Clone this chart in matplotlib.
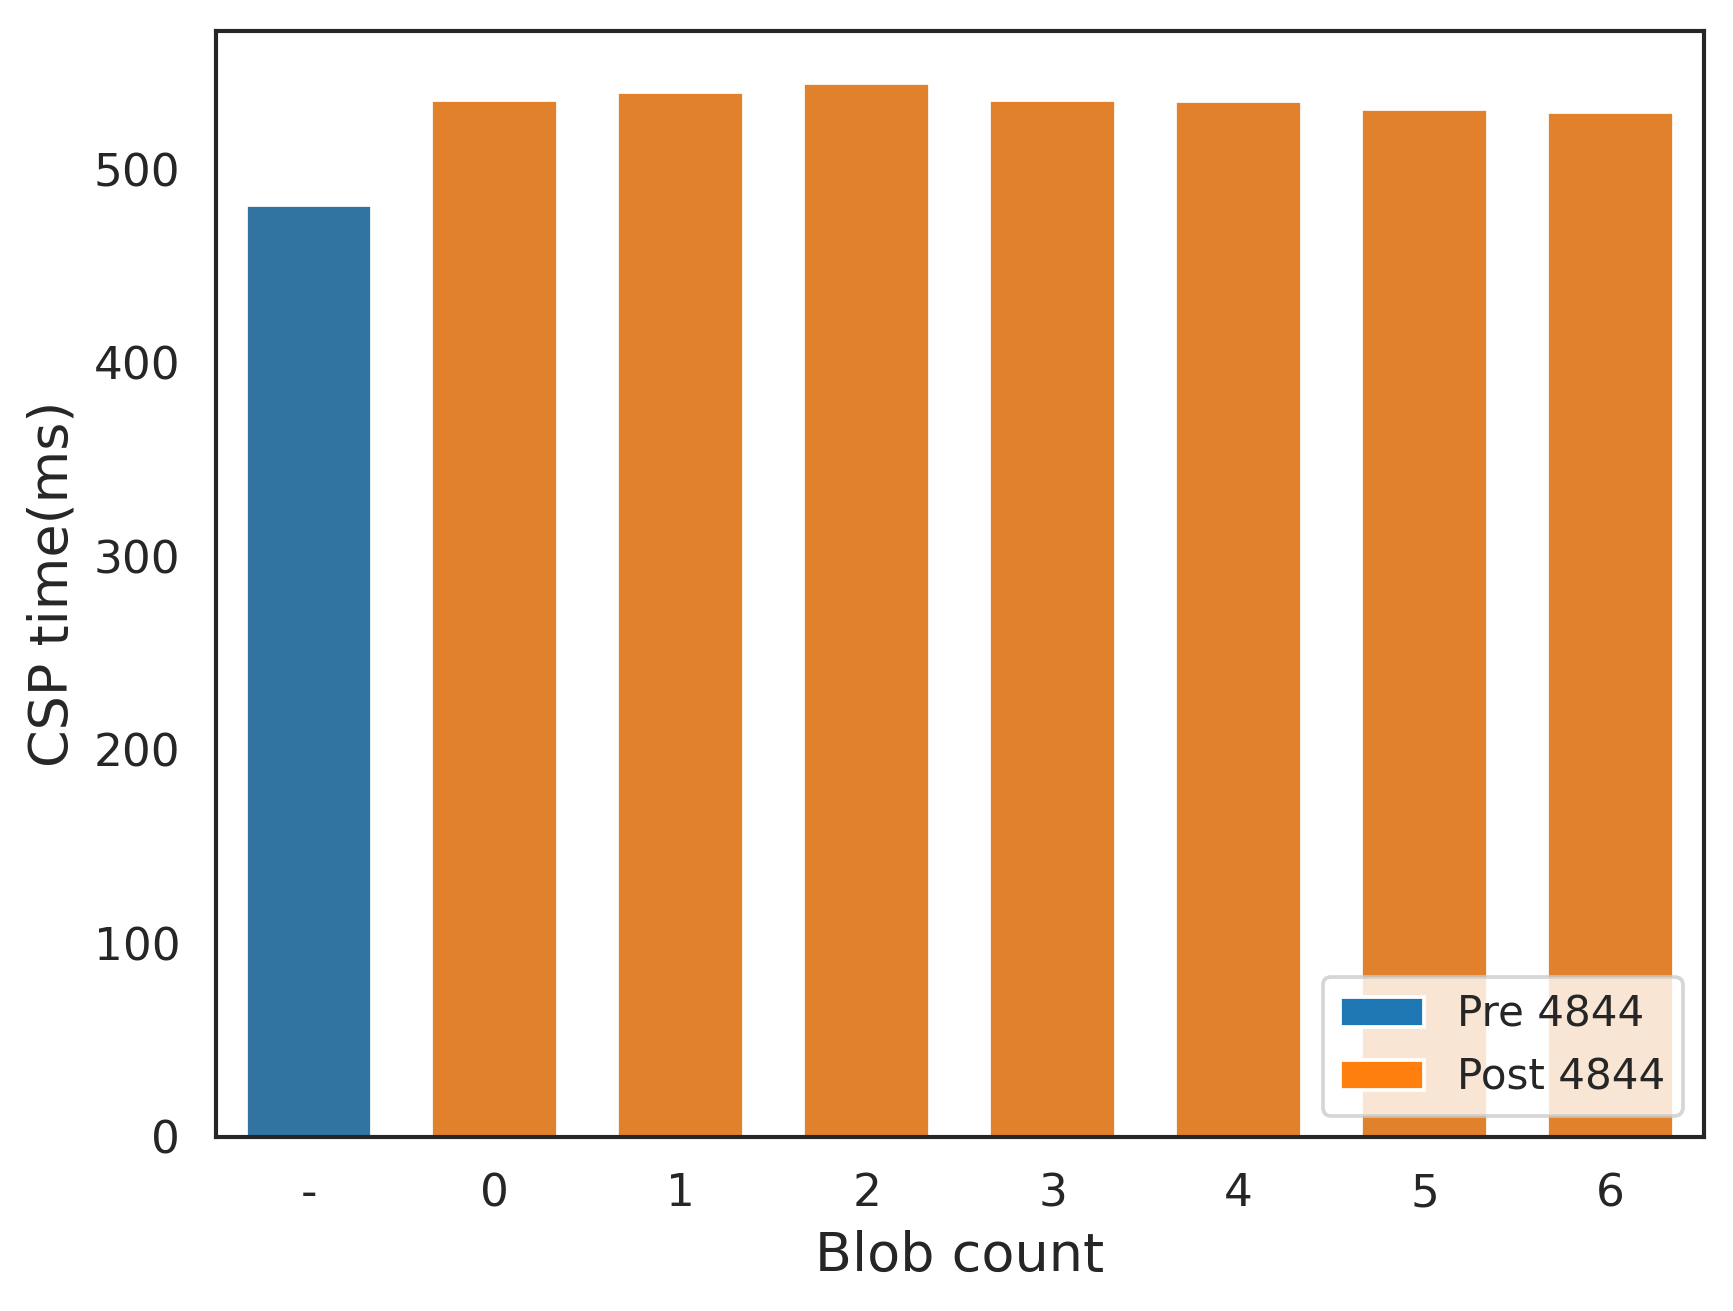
import matplotlib
matplotlib.use("Agg")
import matplotlib.pyplot as plt
import seaborn as sns
from matplotlib.patches import Patch

categories = ["-", "0", "1", "2", "3", "4", "5", "6"]
values = [481.9, 536.2, 540.3, 544.5, 535.7, 535.2, 531.5, 530.0]
groups = ["Pre 4844", "Post 4844", "Post 4844", "Post 4844", "Post 4844", "Post 4844", "Post 4844", "Post 4844"]
legend_labels = ["Pre 4844", "Post 4844"]

sns.set_theme(style="white")
plt.rcParams['font.family'] = ['DejaVu Sans']
plt.rcParams['axes.linewidth'] = 1.1

bar_colors = {"Pre 4844": "#3274a1", "Post 4844": "#e1812c"}
legend_colors = {"Pre 4844": "#1f77b4", "Post 4844": "#ff7f0e"}

fig = plt.figure(figsize=(1733/270, 1311/270), dpi=270)
ax = fig.add_axes([0.1245, 0.133, 0.8585, 0.8435])
x = list(range(len(categories)))
ax.bar(x, values, width=0.68, color=[bar_colors[g] for g in groups])
ax.set_xticks(x)
ax.set_xticklabels(categories, fontsize=12.1)
ax.tick_params(axis="y", labelsize=12.1)
ax.set_xlim(-0.5, len(categories) - 0.5)
ax.set_xlabel("Blob count", fontsize=14.4)
ax.set_ylabel("CSP time(ms)", fontsize=14.4)
for s in ax.spines.values():
    s.set_color("#262626")
handles = [Patch(facecolor=legend_colors[l], edgecolor="white", label=l) for l in legend_labels]
ax.legend(handles=handles, loc="lower right", fontsize=11.2)
fig.savefig("out.png", dpi=270)
